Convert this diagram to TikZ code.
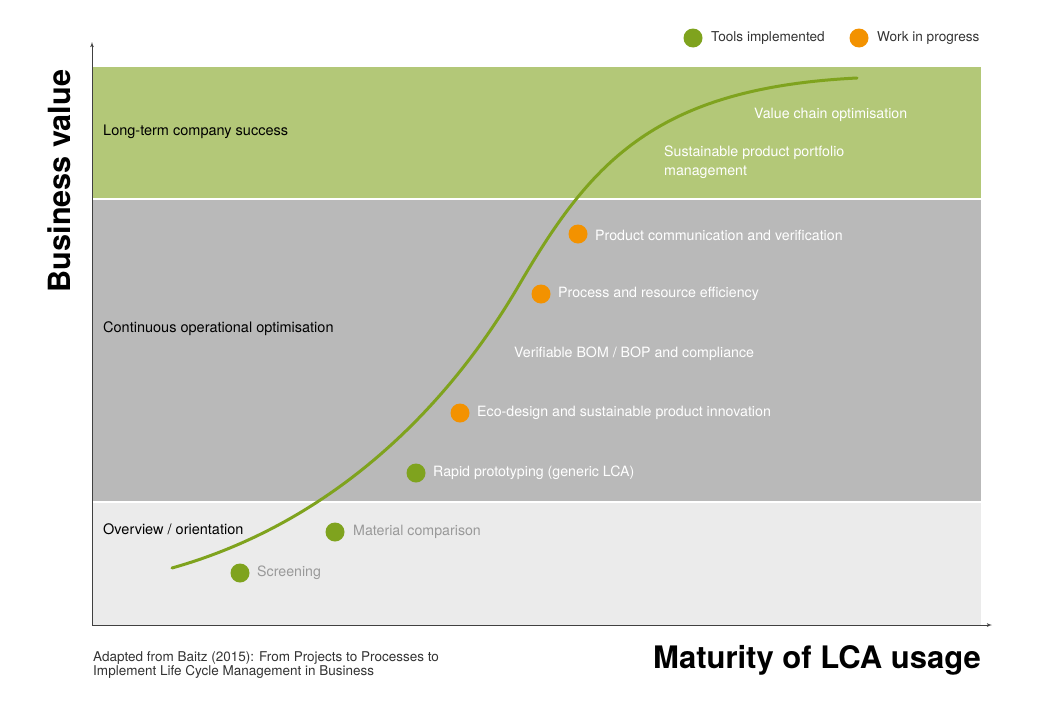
\documentclass[tikz,border=0pt]{standalone}
\usepackage{fontspec}
\setmainfont{TeX Gyre Heros}
\usetikzlibrary{arrows}
\definecolor{bandgreen}{HTML}{B3C878}
\definecolor{banddark}{HTML}{B9B9B9}
\definecolor{bandlight}{HTML}{EBEBEB}
\definecolor{dotgreen}{HTML}{7FA31E}
\definecolor{dotorange}{HTML}{F39200}
\definecolor{labelgray}{HTML}{999999}
\definecolor{legendtext}{HTML}{333333}

\begin{document}
\begin{tikzpicture}[x=1pt, y=-1pt]
      \tikzset{done/.style = {shape=circle,fill=dotgreen,inner sep=0pt,minimum size=19pt}}
      \tikzset{wip/.style = {shape=circle,fill=dotorange,inner sep=0pt,minimum size=19pt}}
      \tikzset{lab/.style = {anchor=west,inner sep=0pt,font=\fontsize{14.2}{16}\selectfont}}
      \tikzset{bandlab/.style = {lab,text=black,font=\fontsize{14.5}{16}\selectfont}}
      \tikzset{axis/.style = {->,> = latex',line width=0.8pt,draw=black!75}}
      \useasboundingbox (0,0) rectangle (1049,707);
      % bands
      \fill[bandlight] (92,503) rectangle (981,625);
      \fill[banddark] (92,200) rectangle (981,501);
      \fill[bandgreen] (92,67) rectangle (981,198);
      \node[bandlab] (b1) at (103,132) {Long-term company success};
      \node[bandlab] (b2) at (103,329) {Continuous operational optimisation};
      \node[bandlab] (b3) at (103,529) {Overview / orientation};
      % axes
      \coordinate (o) at (92,625);
      \coordinate (ytip) at (92,42);
      \coordinate (xtip) at (992,625);
      \draw[axis] (o) to (ytip);
      \draw[axis] (o) to (xtip);
      \node[font=\bfseries\fontsize{30.6}{32}\selectfont,rotate=90] (yl) at (59,181) {Business value};
      \node[font=\bfseries\fontsize{31}{33}\selectfont,anchor=east,inner sep=0pt] (xl) at (981,660) {Maturity of LCA usage};
      % curve
      \coordinate (c0) at (172,568);
      \coordinate (c1) at (522,280);
      \coordinate (c2) at (857,78);
      \draw[dotgreen,line width=3pt,line cap=round] (c0)
        .. controls (392,506) and (497,322.5) .. (c1)
        .. controls (592,161) and (657,88) .. (c2);
      % milestones
      \node[done] (s1) at (240,573) {};
      \node[done] (s2) at (335,532) {};
      \node[done] (s3) at (416,473) {};
      \node[wip] (s4) at (460,413) {};
      \node[wip] (s5) at (541,294) {};
      \node[wip] (s6) at (578,234) {};
      \node[lab,text=labelgray] (t1) at (257,573) {Screening};
      \node[lab,text=labelgray] (t2) at (353,532) {Material comparison};
      \node[lab,text=white] (t3) at (433,473) {Rapid prototyping (generic LCA)};
      \node[lab,text=white] (t4) at (477,413) {Eco-design and sustainable product innovation};
      \node[lab,text=white] (t5) at (514,354) {Verifiable BOM / BOP and compliance};
      \node[lab,text=white] (t6) at (558,294) {Process and resource efficiency};
      \node[lab,text=white] (t7) at (595,235) {Product communication and verification};
      \node[lab,text=white,align=left,font=\fontsize{14.2}{19}\selectfont] (t8) at (664,162.5) {Sustainable product portfolio\\management};
      \node[lab,text=white] (t9) at (754,115) {Value chain optimisation};
      % legend
      \node[done] (l1) at (693,38) {};
      \node[lab,text=legendtext,font=\fontsize{13.6}{16}\selectfont] (lt1) at (711,38) {Tools implemented};
      \node[wip] (l2) at (859,38) {};
      \node[lab,text=legendtext,font=\fontsize{13.6}{16}\selectfont] (lt2) at (877,38) {Work in progress};
      % source
      \node[lab,text=legendtext,align=left,font=\fontsize{13.5}{13}\selectfont] (src) at (93,665)
        {Adapted from Baitz (2015): From Projects to Processes to\\Implement Life Cycle Management in Business};
\end{tikzpicture}
\end{document}
